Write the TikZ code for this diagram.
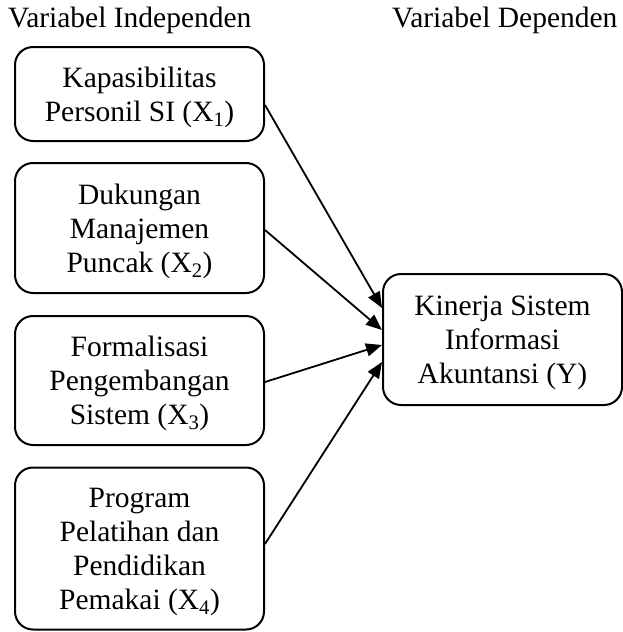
\documentclass[tikz,border=0pt]{standalone}
\usepackage{fontspec}
\setmainfont{Liberation Serif}
\usetikzlibrary{arrows.meta}
\begin{document}
\begin{tikzpicture}[x=1pt,y=-1pt,
  box/.style={draw,line width=2pt,rounded corners=18pt,align=center,
    inner sep=0pt,text depth=0pt,font=\fontsize{29.5}{34}\selectfont},
  head/.style={anchor=base west,inner sep=0pt,font=\fontsize{29.5}{34}\selectfont},
  conn/.style={line width=1.8pt,-{Triangle[length=16pt,width=13pt]}}]
\useasboundingbox (0,0) rectangle (623,632);
\node[head] (h1) at (8,27) {Variabel Independen};
\node[head] (h2) at (392,27) {Variabel Dependen};
\node[box,minimum width=249pt,minimum height=94pt] (b1) at (139.5,94)
  {Kapasibilitas\\Personil SI (X\textsubscript{1})};
\node[box,minimum width=249pt,minimum height=130pt] (b2) at (139.5,228)
  {Dukungan\\Manajemen\\Puncak (X\textsubscript{2})};
\node[box,minimum width=249pt,minimum height=129pt] (b3) at (139.5,380.5)
  {Formalisasi\\Pengembangan\\Sistem (X\textsubscript{3})};
\node[box,minimum width=249pt,minimum height=162pt] (b4) at (139.5,548.5)
  {Program\\Pelatihan dan\\Pendidikan\\Pemakai (X\textsubscript{4})};
\node[box,minimum width=239pt,minimum height=131pt] (y) at (502.5,339.5)
  {Kinerja Sistem\\Informasi\\Akuntansi (Y)};
\draw[conn] ([yshift=-11pt]b1.east) -- ([yshift=31.5pt]y.west);
\draw[conn] ([yshift=-2pt]b2.east) -- ([yshift=9.5pt]y.west);
\draw[conn] ([yshift=-1.5pt]b3.east) -- ([yshift=-5.5pt]y.west);
\draw[conn] ([yshift=4.5pt]b4.east) -- ([yshift=-22.5pt]y.west);
\end{tikzpicture}
\end{document}
